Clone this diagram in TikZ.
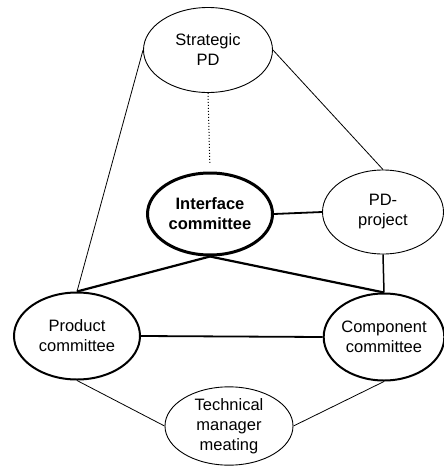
\documentclass[tikz,border=0pt]{standalone}
\usepackage{fontspec}
\setmainfont{Liberation Sans}
\usetikzlibrary{shapes.geometric}
\tikzset{
  forum/.style={ellipse, draw, align=center, inner sep=0pt, line width=0.9pt,
    font=\fontsize{16.5}{20}\selectfont},
}

\begin{document}
\begin{tikzpicture}[x=1pt,y=-1pt]
\useasboundingbox (0,0) rectangle (444,466);
\node[forum, minimum width=129pt, minimum height=85pt] (strat) at (208,50) {Strategic\\PD};
\node[forum, minimum width=125pt, minimum height=82pt, line width=3pt, font=\fontsize{16.5}{20}\selectfont\bfseries] (inter) at (210,214) {Interface\\committee};
\node[forum, minimum width=121pt, minimum height=84pt] (pdproj) at (383,212) {PD-\\project};
\node[forum, minimum width=126pt, minimum height=87pt, line width=2pt] (prod) at (77,336) {Product\\committee};
\node[forum, minimum width=119pt, minimum height=87pt, line width=2pt] (comp) at (384,337) {Component\\committee};
\node[forum, minimum width=128pt, minimum height=78pt] (tech) at (229,426) {Technical\\manager\\meating};
\draw[dotted, line width=1pt, shorten >=7pt] (strat.south) -- (inter.north);
\draw[line width=0.8pt] (strat.east) -- (pdproj.north);
\draw[line width=0.8pt] (strat.west) -- (prod.north);
\draw[line width=1.8pt] (inter.east) -- (pdproj.west);
\draw[line width=2.2pt] (inter.south) -- (prod.north);
\draw[line width=2.2pt] (inter.south) -- (comp.north);
\draw[line width=1.5pt] (pdproj.south) -- (comp.north);
\draw[line width=1.8pt] (prod.east) -- (comp.west);
\draw[line width=0.8pt] (prod.south) -- (tech.west);
\draw[line width=0.8pt] (comp.south) -- (tech.east);
\end{tikzpicture}
\end{document}
